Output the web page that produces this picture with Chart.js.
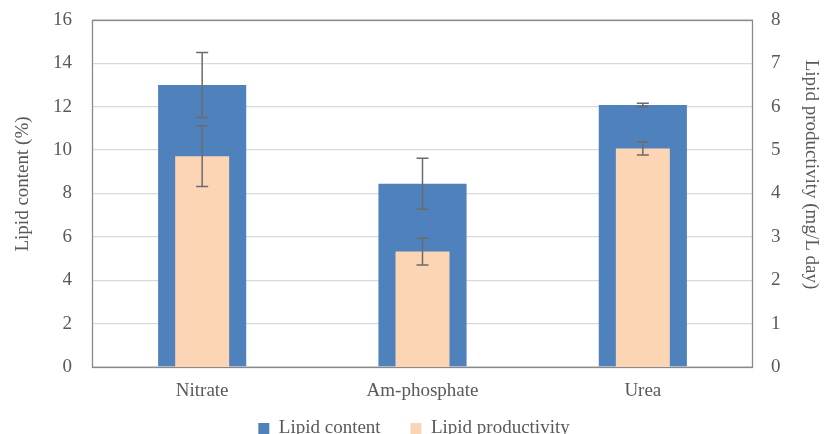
<!DOCTYPE html>
<html>
<head>
<meta charset="utf-8">
<script src="https://cdn.jsdelivr.net/npm/chart.js@4"></script>
<style>
  html, body { margin: 0; padding: 0; background: #fff; }
  #wrap { width: 828px; height: 434px; }
</style>
</head>
<body>
<div id="wrap"><canvas id="c" width="828" height="434"></canvas></div>
<script>
const categories = ['Nitrate', 'Am-phosphate', 'Urea'];
const lipidContent = [13.0, 8.45, 12.08];
const lipidContentErr = [1.5, 1.18, 0.08];
const lipidProductivity = [4.86, 2.66, 5.04];
const lipidProductivityErr = [0.7, 0.31, 0.15];
const leftTicks = [0, 2, 4, 6, 8, 10, 12, 14, 16];
const rightTicks = [0, 1, 2, 3, 4, 5, 6, 7, 8];

const FONT = "'Liberation Serif', 'Times New Roman', serif";
const TXT = '#595959';
const BORDER = '#8a8a8a';

const errorBars = {
  id: 'errorBars',
  afterDatasetsDraw(chart) {
    const ctx = chart.ctx;
    const sets = [
      { ds: 0, vals: lipidContent, errs: lipidContentErr, axis: 'y' },
      { ds: 1, vals: lipidProductivity, errs: lipidProductivityErr, axis: 'y1' }
    ];
    ctx.save();
    ctx.strokeStyle = '#6b6b6b';
    ctx.lineWidth = 1.5;
    sets.forEach(s => {
      const meta = chart.getDatasetMeta(s.ds);
      const sc = chart.scales[s.axis];
      meta.data.forEach((bar, i) => {
        const x = bar.x;
        const yT = sc.getPixelForValue(s.vals[i] + s.errs[i]);
        const yB = sc.getPixelForValue(s.vals[i] - s.errs[i]);
        const cap = 6;
        ctx.beginPath();
        ctx.moveTo(x, yT); ctx.lineTo(x, yB);
        ctx.moveTo(x - cap, yT); ctx.lineTo(x + cap, yT);
        ctx.moveTo(x - cap, yB); ctx.lineTo(x + cap, yB);
        ctx.stroke();
      });
    });
    ctx.restore();
  }
};

const frame = {
  id: 'frame',
  beforeDatasetsDraw(chart) {
    const a = chart.chartArea, ctx = chart.ctx;
    ctx.save();
    ctx.strokeStyle = BORDER;
    ctx.lineWidth = 1.3;
    ctx.strokeRect(Math.round(a.left) + 0.5, Math.round(a.top) + 0.5,
                   Math.round(a.right - a.left) - 1, Math.round(a.bottom - a.top));
    ctx.restore();
  }
};

function fitVertical(width) {
  return function (s) {
    s.width = width;
    s.paddingTop = 0;
    s.paddingBottom = 0;
  };
}

new Chart(document.getElementById('c'), {
  type: 'bar',
  data: {
    labels: categories,
    datasets: [
      {
        label: 'Lipid content',
        data: lipidContent,
        backgroundColor: '#4f81bd',
        yAxisID: 'y',
        grouped: false,
        order: 1,
        barPercentage: 0.4,
        categoryPercentage: 1.0
      },
      {
        label: 'Lipid productivity',
        data: lipidProductivity,
        backgroundColor: '#fcd5b5',
        yAxisID: 'y1',
        grouped: false,
        order: 0,
        barPercentage: 0.245,
        categoryPercentage: 1.0
      }
    ]
  },
  options: {
    responsive: false,
    animation: false,
    devicePixelRatio: 1,
    layout: { padding: { top: 20, left: 0, right: 0, bottom: -14 } },
    plugins: {
      tooltip: { enabled: false },
      legend: {
        position: 'bottom',
        labels: {
          font: { family: FONT, size: 19 },
          color: TXT,
          boxWidth: 11,
          boxHeight: 11,
          padding: 6,
          sort: (a, b) => a.datasetIndex - b.datasetIndex,
          generateLabels(chart) {
            const items = Chart.defaults.plugins.legend.labels.generateLabels(chart);
            items.forEach(it => {
              if (it.datasetIndex === 0) it.text = it.text + '     ';
            });
            return items;
          }
        }
      }
    },
    scales: {
      x: {
        offset: true,
        grid: { display: false, drawTicks: false },
        border: { display: false },
        ticks: { font: { family: FONT, size: 19 }, color: TXT, padding: 13 },
        afterFit(s) { s.height = 46; }
      },
      y: {
        position: 'left',
        min: 0, max: 16,
        afterBuildTicks(s) { s.ticks = leftTicks.map(v => ({ value: v })); },
        grid: { color: '#d9d9d9', lineWidth: 1.3, drawTicks: false },
        border: { display: false },
        ticks: { font: { family: FONT, size: 19 }, color: TXT, padding: 20 },
        title: {
          display: true,
          text: '    Lipid content (%)',
          font: { family: FONT, size: 19 },
          color: TXT,
          padding: { top: 12, bottom: 0 }
        },
        afterFit: fitVertical(92)
      },
      y1: {
        position: 'right',
        min: 0, max: 8,
        afterBuildTicks(s) { s.ticks = rightTicks.map(v => ({ value: v })); },
        grid: { display: false, drawTicks: false },
        border: { display: false },
        ticks: { font: { family: FONT, size: 19 }, color: TXT, padding: 18 },
        title: {
          display: true,
          text: 'Lipid productivity (mg/L day)        ',
          font: { family: FONT, size: 19 },
          color: TXT,
          padding: { top: 6, bottom: 0 }
        },
        afterFit: fitVertical(75)
      }
    }
  },
  plugins: [frame, errorBars]
});
</script>
</body>
</html>
